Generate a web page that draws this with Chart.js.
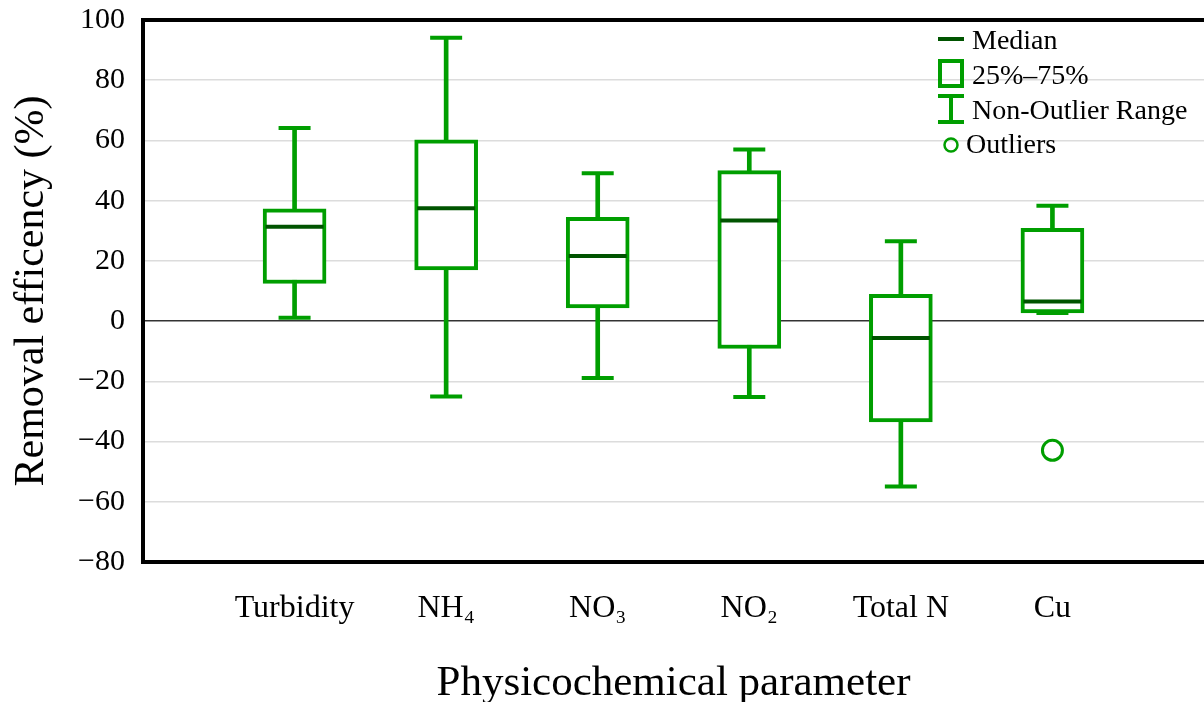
<!DOCTYPE html>
<html>
<head>
<meta charset="utf-8">
<script src="https://cdn.jsdelivr.net/npm/chart.js@4.4.1/dist/chart.umd.min.js"></script>
<style>
  html, body { margin: 0; padding: 0; background: #ffffff; }
  #wrap { width: 1204px; height: 702px; overflow: hidden; }
</style>
</head>
<body>
<div id="wrap"><canvas id="c" width="1204" height="702"></canvas></div>
<script>
// ---- data ----
const categories = ['Turbidity', 'NH\u2084', 'NO\u2083', 'NO\u2082', 'Total N', 'Cu'];
const whiskerMin = [1.1, -25.0, -18.9, -25.2, -54.9, 2.7];
const q1Values   = [12.5, 17.0, 4.4, -9.1, -33.5, 2.7];
const medians    = [31.3, 37.5, 21.6, 33.4, -5.6, 6.5];
const q3Values   = [37.3, 60.2, 34.5, 50.0, 8.9, 30.8];
const whiskerMax = [64.1, 94.1, 49.1, 57.0, 26.5, 38.3];
const outliers   = [null, null, null, null, null, -42.9];
const yTicks = { min: -80, max: 100, step: 20 };
const legendLabels = ['Median', '25%\u201375%', 'Non-Outlier Range', 'Outliers'];
const xTitle = 'Physicochemical parameter';
const yTitle = 'Removal efficency (%)';

// ---- helpers ----
const GREEN = 'rgb(0,158,0)';
const DARK = 'rgb(0,84,0)';
const FONT = "'Liberation Serif', 'Times New Roman', serif";
const pad = arr => [null, ...arr, null];
const labels = ['', ...categories, ''];

const legendPlugin = {
  id: 'boxLegend',
  afterDraw(chart) {
    const ctx = chart.ctx;
    ctx.save();
    ctx.font = '28px ' + FONT;
    ctx.fillStyle = '#000';
    ctx.textBaseline = 'alphabetic';
    ctx.textAlign = 'left';
    ctx.lineCap = 'butt';
    // Median
    ctx.strokeStyle = DARK; ctx.lineWidth = 4;
    ctx.beginPath(); ctx.moveTo(938, 39); ctx.lineTo(964, 39); ctx.stroke();
    ctx.fillText(legendLabels[0], 972, 49);
    // Box
    ctx.strokeStyle = GREEN; ctx.lineWidth = 4;
    ctx.strokeRect(940, 61, 22, 25);
    ctx.fillText(legendLabels[1], 972, 84);
    // Whisker
    ctx.lineWidth = 4;
    ctx.beginPath();
    ctx.moveTo(938, 96); ctx.lineTo(964, 96);
    ctx.moveTo(951, 96); ctx.lineTo(951, 122);
    ctx.moveTo(938, 122); ctx.lineTo(964, 122);
    ctx.stroke();
    ctx.fillText(legendLabels[2], 972, 119);
    // Outlier
    ctx.lineWidth = 2.5;
    ctx.beginPath(); ctx.arc(951, 145, 6.5, 0, Math.PI * 2); ctx.stroke();
    ctx.fillText(legendLabels[3], 966, 153);
    ctx.restore();
  }
};

new Chart(document.getElementById('c'), {
  data: {
    labels: labels,
    datasets: [
      { type: 'bar', label: 'whisker', data: pad(whiskerMin.map((v, i) => [v, whiskerMax[i]])),
        backgroundColor: GREEN, borderWidth: 0, barThickness: 4, grouped: false, order: 4 },
      { type: 'bar', label: 'box', data: pad(q1Values.map((v, i) => [v, q3Values[i]])),
        backgroundColor: '#ffffff', borderColor: GREEN, borderWidth: 4, borderSkipped: false,
        barThickness: 63, grouped: false, order: 3 },
      { type: 'line', label: 'max', data: pad(whiskerMax), showLine: false,
        pointStyle: 'line', pointRadius: 16, pointBorderWidth: 4, pointBorderColor: GREEN, order: 2 },
      { type: 'line', label: 'min', data: pad(whiskerMin), showLine: false,
        pointStyle: 'line', pointRadius: 16, pointBorderWidth: 4, pointBorderColor: GREEN, order: 2 },
      { type: 'line', label: 'median', data: pad(medians), showLine: false,
        pointStyle: 'line', pointRadius: 29, pointBorderWidth: 4, pointBorderColor: DARK, order: 1 },
      { type: 'line', label: 'outlier', data: pad(outliers), showLine: false,
        pointStyle: 'circle', pointRadius: 10, pointBorderWidth: 3, pointBorderColor: GREEN,
        pointBackgroundColor: '#ffffff', order: 0 }
    ]
  },
  options: {
    responsive: false,
    animation: false,
    devicePixelRatio: 1,
    layout: { autoPadding: false, padding: { top: 20, right: 0, bottom: 0, left: 0 } },
    plugins: { legend: { display: false }, tooltip: { enabled: false } },
    scales: {
      x: {
        type: 'category',
        offset: false,
        grid: { display: true, color: 'rgba(0,0,0,0)', drawTicks: true, tickLength: 27, tickColor: 'rgba(0,0,0,0)' },
        border: { display: true, color: '#000', width: 4 },
        ticks: { color: '#000', font: { family: FONT, size: 32 }, padding: 0, maxRotation: 0, autoSkip: false },
        title: { display: true, text: xTitle, color: '#000', font: { family: FONT, size: 43 }, padding: { top: 0, bottom: -8 } },
        afterFit(scale) { scale.height = 140; }
      },
      y: {
        min: yTicks.min, max: yTicks.max,
        ticks: {
          stepSize: yTicks.step, color: '#000', font: { family: FONT, size: 30 }, padding: 0,
          callback: v => (v < 0 ? '\u2212' + Math.abs(v) : String(v))
        },
        grid: {
          drawTicks: true, tickLength: 18, tickColor: 'rgba(0,0,0,0)',
          color: c => c.tick.value === yTicks.max ? '#000' : (c.tick.value === 0 ? '#333' : (c.tick.value === yTicks.min ? 'rgba(0,0,0,0)' : '#dcdcdc')),
          lineWidth: c => c.tick.value === yTicks.max ? 4 : 1.5
        },
        border: { display: true, color: '#000', width: 4 },
        title: { display: true, text: yTitle, color: '#000', font: { family: FONT, size: 42 }, padding: { top: 7, bottom: 0 } },
        afterFit(scale) { scale.width = 143; }
      }
    }
  },
  plugins: [legendPlugin]
});
</script>
</body>
</html>
